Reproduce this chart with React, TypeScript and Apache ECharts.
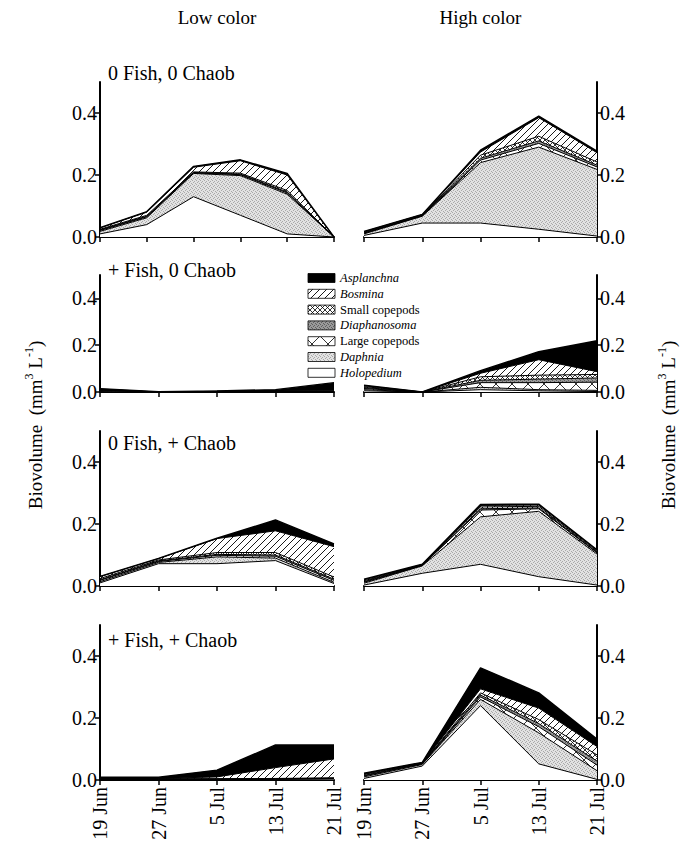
import React, { useEffect, useRef } from 'react';
import * as echarts from 'echarts';

// ---------- data ----------
const dates = ['19 Jun', '27 Jun', '5 Jul', '13 Jul', '21 Jul'];
// the low-colour control enclosure was sampled six times over the same period
const lowControlSamples = ['19 Jun', 's2', 's3', 's4', 's5', '21 Jul'];

// stacking order, bottom -> top
const taxa = ['Holopedium', 'Daphnia', 'Large copepods', 'Diaphanosoma', 'Small copepods', 'Bosmina', 'Asplanchna'];
const italicTaxa = ['Holopedium', 'Daphnia', 'Diaphanosoma', 'Bosmina', 'Asplanchna'];

const columnTitles = ['Low color', 'High color'];
const rowTitles = ['0 Fish, 0 Chaob', '+ Fish, 0 Chaob', '0 Fish, + Chaob', '+ Fish, + Chaob'];
const yTicks = [0, 0.2, 0.4];

// rows of each panel follow `taxa` order
const lowNoFishNoChaob = [
  [0.01, 0.04, 0.13, 0.07, 0.01, 0],
  [0.008, 0.022, 0.075, 0.128, 0.128, 0],
  [0.003, 0.003, 0.002, 0.003, 0.004, 0],
  [0.002, 0.002, 0.001, 0.002, 0.003, 0],
  [0.002, 0.003, 0.002, 0.003, 0.005, 0],
  [0.004, 0.01, 0.015, 0.04, 0.05, 0],
  [0.001, 0.002, 0.003, 0.003, 0.005, 0],
];
const highNoFishNoChaob = [
  [0.005, 0.045, 0.045, 0.025, 0.003],
  [0.005, 0.022, 0.195, 0.265, 0.215],
  [0.002, 0.001, 0.008, 0.012, 0.008],
  [0.001, 0.001, 0.006, 0.008, 0.006],
  [0.002, 0.001, 0.01, 0.015, 0.01],
  [0.002, 0.002, 0.01, 0.06, 0.03],
  [0.001, 0.001, 0.006, 0.005, 0.005],
];
const lowFishNoChaob = [
  [0.002, 0, 0, 0, 0],
  [0.004, 0, 0.001, 0.001, 0.001],
  [0.002, 0, 0, 0, 0],
  [0.001, 0, 0, 0.001, 0.001],
  [0.002, 0, 0.001, 0.001, 0.001],
  [0.002, 0, 0.001, 0.001, 0.002],
  [0.001, 0.001, 0.002, 0.006, 0.035],
];
const highFishNoChaob = [
  [0.005, 0, 0.01, 0.005, 0.002],
  [0.005, 0, 0.01, 0.005, 0.005],
  [0.005, 0, 0.02, 0.03, 0.035],
  [0.004, 0, 0.01, 0.015, 0.018],
  [0.004, 0, 0.015, 0.017, 0.015],
  [0.004, 0, 0.015, 0.066, 0.012],
  [0.002, 0, 0.011, 0.034, 0.132],
];
const lowNoFishChaob = [
  [0.01, 0.072, 0.072, 0.082, 0.008],
  [0.004, 0.004, 0.022, 0.008, 0.004],
  [0.004, 0.003, 0.005, 0.006, 0.006],
  [0.002, 0.002, 0.003, 0.004, 0.004],
  [0.004, 0.003, 0.006, 0.008, 0.007],
  [0.006, 0.004, 0.045, 0.07, 0.098],
  [0.001, 0.001, 0.001, 0.035, 0.009],
];
const highNoFishChaob = [
  [0.003, 0.041, 0.07, 0.03, 0.003],
  [0.006, 0.024, 0.153, 0.211, 0.1],
  [0.003, 0.001, 0.022, 0.008, 0.004],
  [0.002, 0.001, 0.004, 0.003, 0.002],
  [0.003, 0.001, 0.006, 0.005, 0.003],
  [0.003, 0.001, 0.005, 0.004, 0.003],
  [0.002, 0.001, 0.003, 0.003, 0.002],
];
const lowFishChaob = [
  [0.001, 0.001, 0.001, 0.002, 0.003],
  [0.001, 0.001, 0.001, 0.001, 0.001],
  [0.001, 0.001, 0.001, 0.001, 0.001],
  [0, 0, 0, 0, 0.001],
  [0.001, 0.001, 0.001, 0.001, 0.001],
  [0.001, 0.001, 0.006, 0.035, 0.061],
  [0.004, 0.004, 0.022, 0.073, 0.045],
];
const highFishChaob = [
  [0.005, 0.045, 0.24, 0.052, 0.002],
  [0.005, 0.005, 0.02, 0.1, 0.028],
  [0.003, 0.002, 0.008, 0.02, 0.018],
  [0.002, 0.001, 0.006, 0.01, 0.013],
  [0.003, 0.001, 0.007, 0.013, 0.02],
  [0.002, 0.001, 0.013, 0.037, 0.027],
  [0.002, 0.002, 0.068, 0.049, 0.024],
];

const panels = [
  { data: lowNoFishNoChaob, cats: lowControlSamples },
  { data: highNoFishNoChaob, cats: dates },
  { data: lowFishNoChaob, cats: dates },
  { data: highFishNoChaob, cats: dates },
  { data: lowNoFishChaob, cats: dates },
  { data: highNoFishChaob, cats: dates },
  { data: lowFishChaob, cats: dates },
  { data: highFishChaob, cats: dates },
];

// ---------- layout ----------
const FONT = 'Liberation Serif';
const colLeft = [100, 364];
const colWidth = [234, 233];
const rowTop = [82, 275, 431, 625];
const rowHeight = [155, 117, 155, 155];
const titleY = [73, 270, 443, 640];

function makeCanvas(w: number, h: number, draw: (ctx: CanvasRenderingContext2D) => void) {
  const c = document.createElement('canvas');
  c.width = w;
  c.height = h;
  const ctx = c.getContext('2d') as CanvasRenderingContext2D;
  draw(ctx);
  return { image: c, repeat: 'repeat', imageWidth: w, imageHeight: h } as any;
}

function buildPatterns() {
  const hatch = makeCanvas(7, 7, (ctx) => {
    ctx.fillStyle = '#fff';
    ctx.fillRect(0, 0, 7, 7);
    ctx.strokeStyle = '#000';
    ctx.lineWidth = 0.9;
    ctx.beginPath();
    ctx.moveTo(-1, 8); ctx.lineTo(8, -1);
    ctx.moveTo(-1, 1); ctx.lineTo(1, -1);
    ctx.moveTo(6, 8); ctx.lineTo(8, 6);
    ctx.stroke();
  });
  const cross = makeCanvas(5, 5, (ctx) => {
    ctx.fillStyle = '#fff';
    ctx.fillRect(0, 0, 5, 5);
    ctx.strokeStyle = '#000';
    ctx.lineWidth = 0.8;
    ctx.beginPath();
    ctx.moveTo(-1, 6); ctx.lineTo(6, -1);
    ctx.moveTo(-1, -1); ctx.lineTo(6, 6);
    ctx.stroke();
  });
  const bigX = makeCanvas(16, 16, (ctx) => {
    ctx.fillStyle = '#fff';
    ctx.fillRect(0, 0, 16, 16);
    ctx.strokeStyle = '#000';
    ctx.lineWidth = 0.8;
    ctx.beginPath();
    ctx.moveTo(-1, 17); ctx.lineTo(17, -1);
    ctx.moveTo(-1, -1); ctx.lineTo(17, 17);
    ctx.stroke();
  });
  const stipple = (base: string, dot: string) =>
    makeCanvas(4, 4, (ctx) => {
      ctx.fillStyle = base;
      ctx.fillRect(0, 0, 4, 4);
      ctx.fillStyle = dot;
      [[0, 0], [2, 1], [1, 2], [3, 3]].forEach(([x, y]) => ctx.fillRect(x, y, 1, 1));
    });
  return {
    Holopedium: '#ffffff',
    Daphnia: stipple('#e2e2e2', '#a9a9a9'),
    'Large copepods': bigX,
    Diaphanosoma: stipple('#9a9a9a', '#5e5e5e'),
    'Small copepods': cross,
    Bosmina: hatch,
    Asplanchna: '#000000',
  } as Record<string, any>;
}

export default function App() {
  const ref = useRef<HTMLDivElement>(null);

  useEffect(() => {
    if (!ref.current) return;
    const chart = echarts.init(ref.current, null, { renderer: 'svg' });
    const patterns = buildPatterns();

    const grid: any[] = [];
    const xAxis: any[] = [];
    const yAxis: any[] = [];
    const series: any[] = [];

    panels.forEach((p, i) => {
      const row = Math.floor(i / 2);
      const col = i % 2;
      grid.push({ left: colLeft[col], top: rowTop[row], width: colWidth[col], height: rowHeight[row], containLabel: false });
      xAxis.push({
        type: 'category',
        gridIndex: i,
        data: p.cats,
        boundaryGap: false,
        axisLine: { lineStyle: { color: '#000', width: 2 } },
        axisTick: { show: true, interval: 0, length: 5, lineStyle: { color: '#000', width: 1.5 } },
        axisLabel: {
          show: row === 3,
          interval: 0,
          rotate: 90,
          margin: 7,
          color: '#000',
          fontSize: 20,
          fontFamily: FONT,
        },
        splitLine: { show: false },
      });
      yAxis.push({
        type: 'value',
        gridIndex: i,
        position: col === 0 ? 'left' : 'right',
        min: 0,
        max: 0.5,
        interval: 0.1,
        axisLine: { show: true, onZero: false, lineStyle: { color: '#000', width: 2 } },
        axisTick: { show: true, length: 5, customValues: yTicks, lineStyle: { color: '#000', width: 1.5 } },
        axisLabel: {
          customValues: yTicks,
          formatter: (v: number) => v.toFixed(1),
          margin: 3,
          color: '#000',
          fontSize: 20,
          fontFamily: FONT,
        },
        splitLine: { show: false },
      });
      taxa.forEach((t, k) => {
        series.push({
          type: 'line',
          name: t,
          xAxisIndex: i,
          yAxisIndex: i,
          stack: 'panel' + i,
          data: p.data[k],
          symbol: 'none',
          silent: true,
          lineStyle: { color: '#000', width: k === taxa.length - 1 ? 1.4 : 1 },
          areaStyle: { color: patterns[t], opacity: 1 },
        });
      });
    });

    const graphic: any[] = [];
    columnTitles.forEach((t, c) => {
      graphic.push({
        type: 'text',
        x: colLeft[c] + colWidth[c] / 2,
        y: 17,
        style: { text: t, fontSize: 19, fontFamily: FONT, fill: '#000', align: 'center', verticalAlign: 'middle' },
      });
    });
    rowTitles.forEach((t, r) => {
      graphic.push({
        type: 'text',
        x: 108,
        y: titleY[r],
        style: { text: t, fontSize: 20, fontFamily: FONT, fill: '#000', align: 'left', verticalAlign: 'middle' },
      });
    });
    const yName = '{a|Biovolume  (mm}{s|3}{a| L}{s|-1}{a|)}';
    const yRich = {
      a: { fontSize: 19, fontFamily: FONT, fill: '#000', lineHeight: 24 },
      s: { fontSize: 12, fontFamily: FONT, fill: '#000', verticalAlign: 'top', lineHeight: 24 },
    };
    [35, 668].forEach((x) => {
      graphic.push({
        type: 'text',
        x,
        y: 425,
        rotation: Math.PI / 2,
        style: { text: yName, rich: yRich, align: 'center', verticalAlign: 'middle' },
      });
    });
    // legend
    const legendOrder = [...taxa].reverse();
    legendOrder.forEach((t, j) => {
      const yc = 278 + j * 15.8;
      graphic.push({
        type: 'rect',
        shape: { x: 308, y: yc - 4.5, width: 27, height: 9 },
        style: { fill: patterns[t], stroke: '#000', lineWidth: 0.8 },
      });
      graphic.push({
        type: 'text',
        x: 340,
        y: yc,
        style: {
          text: t,
          fontSize: 12.5,
          fontFamily: FONT,
          fontStyle: italicTaxa.includes(t) ? 'italic' : 'normal',
          fill: '#000',
          align: 'left',
          verticalAlign: 'middle',
        },
      });
    });

    chart.setOption({
      animation: false,
      backgroundColor: '#fff',
      grid,
      xAxis,
      yAxis,
      series,
      graphic,
    });
    return () => chart.dispose();
  }, []);

  return (
    <div
      ref={ref}
      style={{ position: 'absolute', left: 0, top: 0, width: 688, height: 843, background: '#fff' }}
    />
  );
}
